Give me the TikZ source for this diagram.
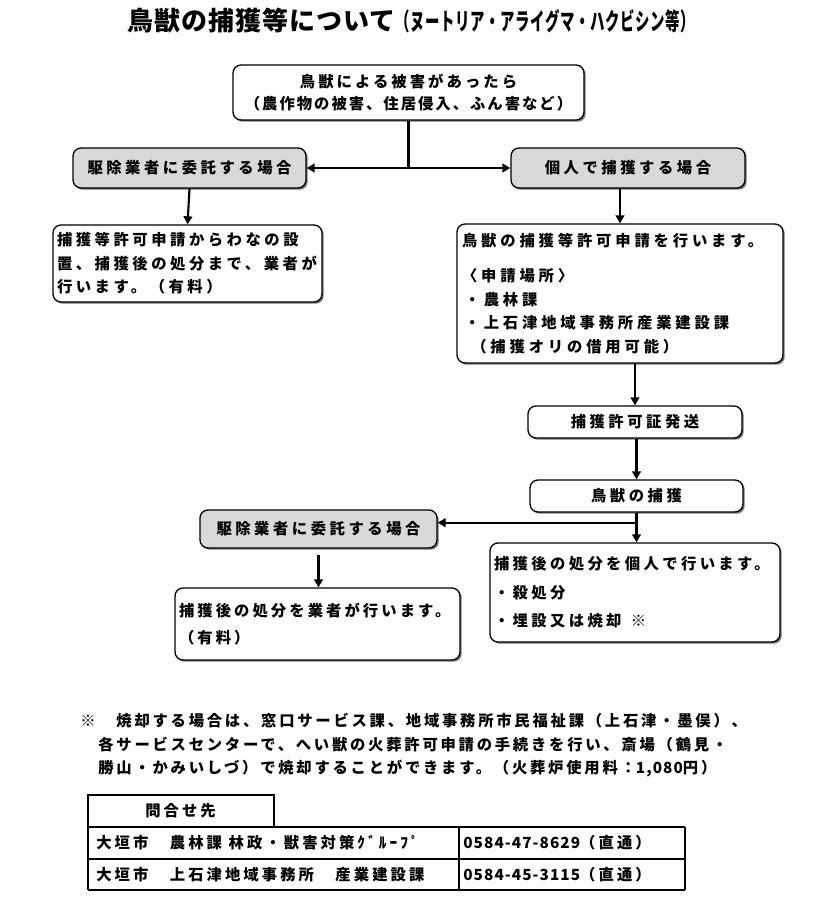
\documentclass[tikz,border=0pt]{standalone}
\usepackage{fontspec}
\usepackage{graphicx}
\usetikzlibrary{arrows.meta,shadows,calc}
\setmainfont{Noto Sans CJK JP}
\newfontfamily\jp{Noto Sans CJK JP}[LetterSpace=23]
\newfontfamily\jpnum{Noto Sans CJK JP}[LetterSpace=7]
\newfontfamily\titlefont{Noto Sans CJK JP}[LetterSpace=4]

\tikzset{
  box/.style={draw, line width=1pt, rounded corners=6pt, fill=white,
    drop shadow={shadow xshift=1.3pt, shadow yshift=-1.3pt, fill=black!75, opacity=0.7},
    inner xsep=3pt, inner ysep=2pt,
    font=\jp\bfseries\fontsize{11.5pt}{17.6pt}\selectfont},
  gbox/.style={box, fill=black!15, align=center},
  arr/.style={line width=1.6pt, -{Triangle[width=6.5pt,length=6pt]}},
  conn/.style={line width=1.6pt},
  tline/.style={line width=0.9pt},
  plain/.style={inner sep=0pt, font=\jp\bfseries\addfontfeature{LetterSpace=20}\fontsize{11.5pt}{17.6pt}\selectfont},
}

\begin{document}
\begin{tikzpicture}[x=0.75pt,y=-0.75pt]
\useasboundingbox (0,0) rectangle (813,909);

% title
\node[anchor=west, inner sep=0pt, font=\titlefont\bfseries\fontsize{19.5pt}{22pt}\selectfont] (title) at (127,21)
  {鳥獣の捕獲等について{\fontsize{18pt}{20pt}\selectfont\scalebox{0.6}[1]{（ヌートリア・アライグマ・ハクビシン等）}}};

% top box
\node[box, minimum width=263.25pt, minimum height=41.25pt, align=center,
      font=\jp\bfseries\addfontfeature{LetterSpace=20}\fontsize{11.5pt}{16.5pt}\selectfont] (top) at (408.5,92.5)
  {鳥獣による被害があったら\\{\addfontfeature{LetterSpace=13}（農作物の被害、住居侵入、ふん害など）}};

% grey boxes
\node[gbox, minimum width=174.75pt, minimum height=30pt] (lg) at (189.5,168) {駆除業者に委託する場合};
\node[gbox, minimum width=175.5pt, minimum height=30pt] (rg) at (628,168) {個人で捕獲する場合};

% left box
\node[box, text width=195.75pt, minimum height=57.75pt, align=left,
      font=\jp\bfseries\addfontfeature{LetterSpace=23}\fontsize{11.5pt}{17.6pt}\selectfont] (lbox) at (187.5,263.5)
  {捕獲等許可申請からわなの設\\置、捕獲後の処分まで、業者が\\行います。（有料）};

% right box
\node[box, text width=237pt, inner xsep=3.75pt, minimum height=104.25pt, align=left,
      font=\jp\bfseries\addfontfeature{LetterSpace=25}\fontsize{11.5pt}{17.6pt}\selectfont] (rbox) at (620,293.5)
  {鳥獣の捕獲等許可申請を行います。\\[8.6pt]
   〈申請場所〉\\
   \hspace*{2pt}・農林課\\
   \hspace*{2pt}・上石津地域事務所産業建設課\\
   \hspace*{7pt}（捕獲オリの借用可能）};

% middle boxes
\node[box, minimum width=160.5pt, minimum height=24pt, align=center] (permit) at (635,422) {捕獲許可証発送};
\node[box, minimum width=159.75pt, minimum height=24pt, align=center] (catch) at (636.5,496) {鳥獣の捕獲};

% lower grey box
\node[gbox, minimum width=177.75pt, minimum height=28.5pt] (lg2) at (318.5,529) {駆除業者に委託する場合};

% bottom boxes
\node[box, text width=211.5pt, minimum height=74.25pt, align=left,
      font=\jp\bfseries\addfontfeature{LetterSpace=22}\fontsize{11.5pt}{21.4pt}\selectfont] (brbox) at (635,592.5)
  {捕獲後の処分を個人で行います。\\・殺処分\\・埋設又は焼却\hspace{0.6em}※};
\node[box, text width=207.75pt, minimum height=54pt, align=left,
      font=\jp\bfseries\addfontfeature{LetterSpace=20}\fontsize{11.5pt}{20.25pt}\selectfont] (blbox) at (317.5,624)
  {捕獲後の処分を業者が行います。\\（有料）};

% connectors
\coordinate (tj) at (top.south |- lg.east);
\draw[conn] (top.south) -- (tj);
\draw[arr] (tj) -- (lg.east);
\draw[arr] (tj) -- (rg.west);
\draw[arr] (lg.south) -- (lbox.north);
\draw[arr] (rg.south -| rbox.north) ++(0,0) coordinate (rgs) -- (rgs |- rbox.north);
\draw[arr] (rbox.south -| permit.north) -- (permit.north);
\draw[arr] (permit.south -| catch.north) -- (catch.north);
\coordinate (bj) at ($(catch.south)+(0,10)$);
\draw[arr] (catch.south) -- (catch.south |- brbox.north);
\draw[arr] (bj) -- (bj -| lg2.east);
\draw[arr, shorten <=5pt] (lg2.south) -- (lg2.south |- blbox.north);

% footnote
\node[plain, anchor=west, align=left,
      font=\jp\bfseries\addfontfeature{LetterSpace=18}\fontsize{11.5pt}{17.6pt}\selectfont] (note) at (80,745.5)
  {※　焼却する場合は、窓口サービス課、地域事務所市民福祉課（上石津・墨俣）、\\
   　各サービスセンターで、へい獣の火葬許可申請の手続きを行い、斎場（鶴見・\\
   　勝山・かみいしづ）で焼却することができます。（火葬炉使用料：{\jpnum 1,080}円）};

% table
\draw[tline] (88,827) -- (88,795) -- (274,795) -- (274,827);
\draw[tline] (88,827) -- (685,827);
\draw[tline] (88,859) -- (685,859);
\draw[tline] (88,890) -- (685,890);
\draw[tline] (88,827) -- (88,890);
\draw[tline] (459,827) -- (459,890);
\draw[tline] (685,827) -- (685,890);
\node[plain, anchor=west] (thead) at (145,811) {問合せ先};
\node[plain, anchor=west] (r1a) at (96,843) {大垣市　農林課\hspace{5pt}林政・獣害対策ｸﾞﾙｰﾌﾟ};
\node[plain, anchor=west] (r2a) at (96,874.5) {大垣市　上石津地域事務所　産業建設課};
\node[plain, anchor=west] (r1b) at (463,843) {{\jpnum 0584-47-8629}（直通）};
\node[plain, anchor=west] (r2b) at (463,874.5) {{\jpnum 0584-45-3115}（直通）};
\end{tikzpicture}
\end{document}
